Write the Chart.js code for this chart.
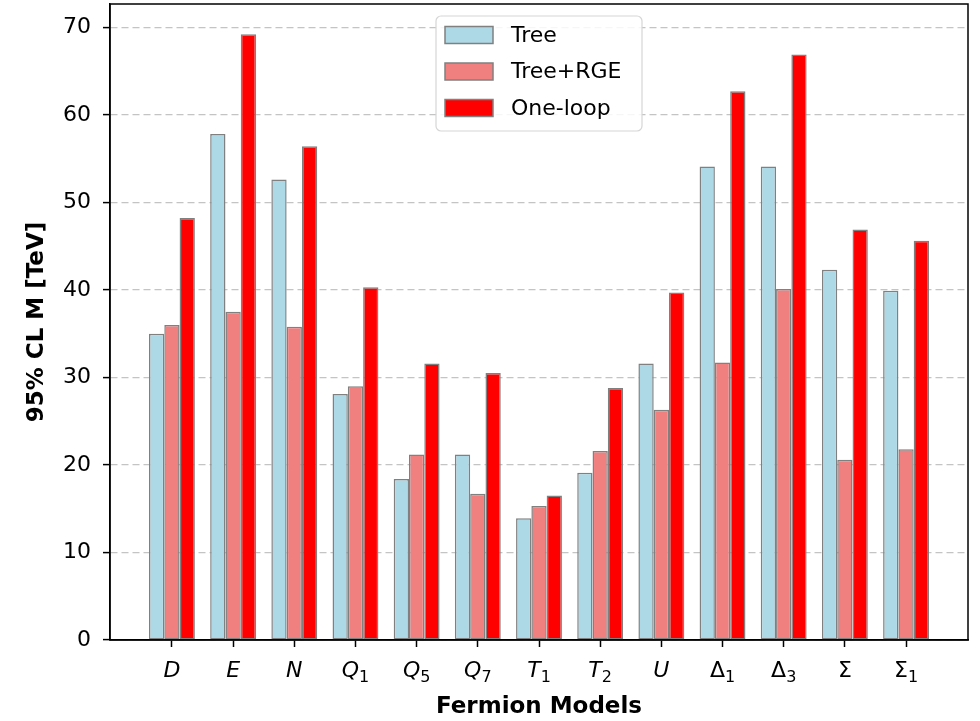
<!DOCTYPE html>
<html>
<head>
<meta charset="utf-8">
<title>95% CL M by fermion model</title>
<script src="https://cdn.jsdelivr.net/npm/chart.js@4.4.1/dist/chart.umd.min.js"></script>
<style>
    html, body { margin: 0; padding: 0; background: #fff; }
    #wrap { width: 980px; height: 721px; }
</style>
</head>
<body>
<div id="wrap"><canvas id="fermionChart" width="980" height="721"></canvas></div>
<script>
(function () {
    'use strict';

    // ── data (TeV) ──────────────────────────────────────────
    var MODEL_BASE = ['D', 'E', 'N', 'Q', 'Q', 'Q', 'T', 'T', 'U', '\u0394', '\u0394', '\u03a3', '\u03a3'];
    var MODEL_SUB  = ['', '', '', '1', '5', '7', '1', '2', '', '1', '3', '', '1'];
    var ITALIC     = [true, true, true, true, true, true, true, true, true, false, false, false, false];
    var TREE       = [35.0, 57.8, 52.6, 28.1, 18.4, 21.2, 13.9, 19.1, 31.6, 54.1, 54.1, 42.3, 39.9];
    var TREE_RGE   = [36.0, 37.5, 35.8, 29.0, 21.2, 16.7, 15.3, 21.6, 26.3, 31.7, 40.1, 20.6, 21.8];
    var ONE_LOOP   = [48.2, 69.2, 56.4, 40.3, 31.6, 30.5, 16.5, 28.8, 39.7, 62.7, 66.9, 46.9, 45.6];
    var Y_TICKS    = [0, 10, 20, 30, 40, 50, 60, 70];

    var FONT = 'DejaVu Sans';
    var EDGE = '#808080';

    Chart.defaults.font.family = FONT;
    Chart.defaults.color = '#000';

    function points(arr) {
        return arr.map(function (v, i) { return { x: i, y: v }; });
    }

    function barSet(label, values, fill) {
        return {
            label: label,
            data: points(values),
            backgroundColor: fill,
            borderColor: EDGE,
            borderWidth: 1.5,
            borderSkipped: false,
            categoryPercentage: 0.75,
            barPercentage: 1.0
        };
    }

    // ── frame on all four sides (matplotlib spines) ─────────
    var framePlugin = {
        id: 'frame',
        afterDraw: function (chart) {
            var a = chart.chartArea, ctx = chart.ctx;
            ctx.save();
            ctx.strokeStyle = '#000';
            ctx.lineWidth = 1.5;
            ctx.strokeRect(a.left, a.top, a.right - a.left, a.bottom - a.top);
            ctx.restore();
        }
    };

    // ── x tick labels with real subscripts (mathtext look) ──
    var subLabels = {
        id: 'subLabels',
        afterDraw: function (chart) {
            var xs = chart.scales.x, ctx = chart.ctx;
            var base = chart.chartArea.bottom + 37;
            ctx.save();
            ctx.fillStyle = '#000';
            ctx.textBaseline = 'alphabetic';
            ctx.textAlign = 'left';
            xs.ticks.forEach(function (t) {
                var i = t.value;
                var mainFont = (ITALIC[i] ? 'italic ' : '') + '22px "' + FONT + '"';
                var subFont = '16px "' + FONT + '"';
                ctx.font = mainFont;
                var w1 = ctx.measureText(MODEL_BASE[i]).width;
                ctx.font = subFont;
                var w2 = MODEL_SUB[i] ? ctx.measureText(MODEL_SUB[i]).width : 0;
                var x0 = xs.getPixelForValue(i) - (w1 + w2) / 2;
                ctx.font = mainFont;
                ctx.fillText(MODEL_BASE[i], x0, base);
                if (w2) {
                    ctx.font = subFont;
                    ctx.fillText(MODEL_SUB[i], x0 + w1, base + 5);
                }
            });
            ctx.restore();
        }
    };

    // ── legend box, upper centre inside the axes ────────────
    var boxLegend = {
        id: 'boxLegend',
        afterDraw: function (chart) {
            var a = chart.chartArea, ctx = chart.ctx;
            var w = 206, h = 115, r = 5;
            var x = (a.left + a.right) / 2 - w / 2;
            var y = a.top + 12;

            ctx.save();
            ctx.beginPath();
            ctx.moveTo(x + r, y);
            ctx.arcTo(x + w, y, x + w, y + h, r);
            ctx.arcTo(x + w, y + h, x, y + h, r);
            ctx.arcTo(x, y + h, x, y, r);
            ctx.arcTo(x, y, x + w, y, r);
            ctx.closePath();
            ctx.fillStyle = 'rgba(255,255,255,0.85)';
            ctx.fill();
            ctx.strokeStyle = '#d6d6d6';
            ctx.lineWidth = 1.2;
            ctx.stroke();

            ctx.font = '22px "' + FONT + '"';
            ctx.textBaseline = 'middle';
            ctx.textAlign = 'left';
            chart.data.datasets.forEach(function (ds, i) {
                var cy = y + 19 + i * 36.5;
                ctx.fillStyle = ds.backgroundColor;
                ctx.fillRect(x + 9, cy - 8.5, 48, 17);
                ctx.strokeStyle = ds.borderColor;
                ctx.lineWidth = 1.5;
                ctx.strokeRect(x + 9, cy - 8.5, 48, 17);
                ctx.fillStyle = '#000';
                ctx.fillText(ds.label, x + 75, cy + 1);
            });
            ctx.restore();
        }
    };

    new Chart(document.getElementById('fermionChart').getContext('2d'), {
        type: 'bar',
        data: {
            datasets: [
                barSet('Tree', TREE, '#add8e6'),
                barSet('Tree+RGE', TREE_RGE, '#f08080'),
                barSet('One-loop', ONE_LOOP, '#ff0000')
            ]
        },
        plugins: [framePlugin, subLabels, boxLegend],
        options: {
            responsive: false,
            animation: false,
            events: [],
            layout: { padding: { left: 0, right: 12, top: 4, bottom: 0 } },
            plugins: {
                legend: { display: false },
                tooltip: { enabled: false }
            },
            scales: {
                x: {
                    type: 'linear',
                    min: -1.0125,
                    max: 13.0125,
                    offset: false,
                    afterBuildTicks: function (s) {
                        s.ticks = MODEL_BASE.map(function (m, i) { return { value: i }; });
                    },
                    afterFit: function (s) {
                        s.height = 81;
                        s.paddingLeft = 0;
                        s.paddingRight = 0;
                    },
                    ticks: {
                        autoSkip: false,
                        maxRotation: 0,
                        includeBounds: false,
                        padding: 10,
                        font: { family: FONT, size: 22 },
                        callback: function () { return ''; } // drawn by subLabels
                    },
                    grid: {
                        offset: false,
                        drawOnChartArea: false,
                        drawTicks: true,
                        tickLength: 7,
                        tickColor: '#000',
                        tickWidth: 1.5
                    },
                    border: { display: true, color: '#000', width: 1.5 },
                    title: {
                        display: true,
                        text: 'Fermion Models',
                        color: '#000',
                        font: { family: FONT, size: 23, weight: 'bold' },
                        padding: { top: 0, bottom: 0 }
                    }
                },
                y: {
                    min: 0,
                    max: 72.66,
                    afterBuildTicks: function (s) {
                        s.ticks = Y_TICKS.map(function (v) { return { value: v }; });
                    },
                    afterFit: function (s) {
                        s.width = 110;
                        s.paddingTop = 0;
                        s.paddingBottom = 0;
                    },
                    ticks: {
                        includeBounds: false,
                        padding: 12,
                        color: '#000',
                        font: { family: FONT, size: 22 }
                    },
                    grid: {
                        color: '#c4c4c4',
                        lineWidth: 1.2,
                        drawTicks: true,
                        tickLength: 7,
                        tickColor: '#000',
                        tickWidth: 1.5,
                        tickBorderDash: []
                    },
                    border: { display: true, color: '#000', width: 1.5, dash: [7, 4] },
                    title: {
                        display: true,
                        text: '95% CL M [TeV]',
                        color: '#000',
                        font: { family: FONT, size: 23, weight: 'bold' },
                        padding: { top: 23, bottom: 0 }
                    }
                }
            }
        }
    });
})();
</script>
</body>
</html>
